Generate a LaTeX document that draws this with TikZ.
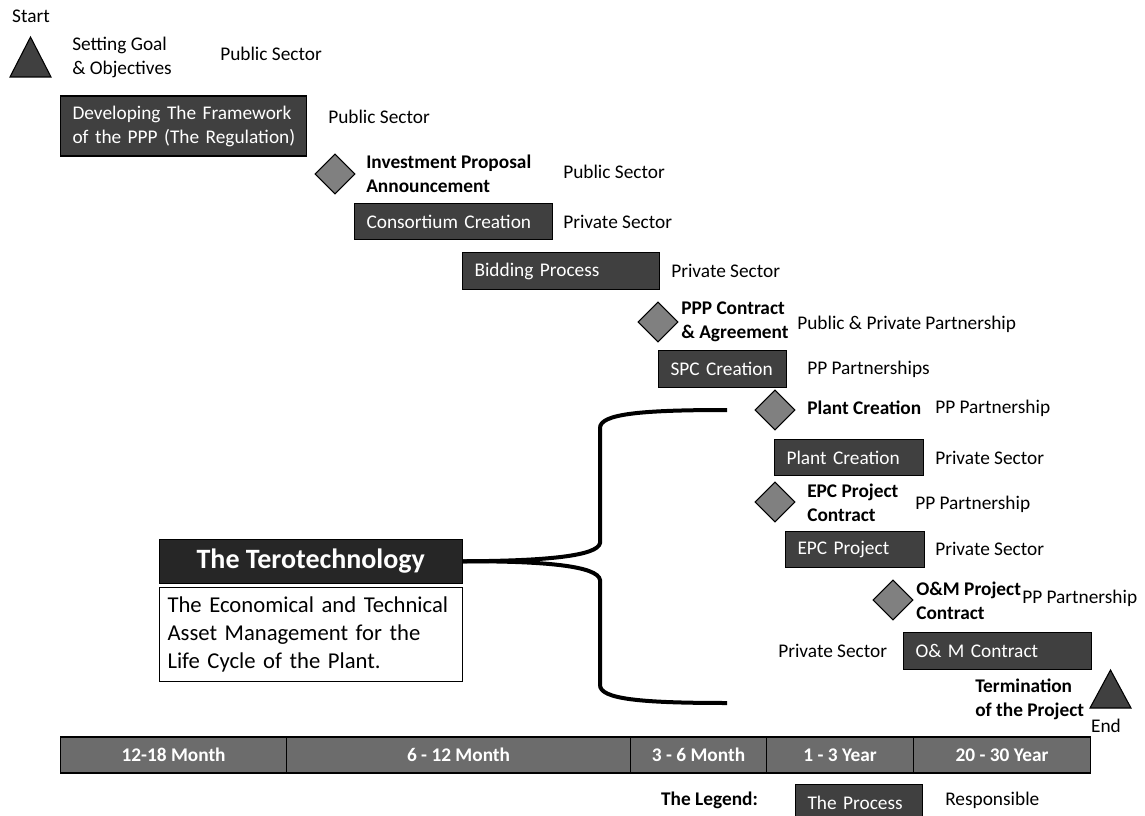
\documentclass[tikz,border=0pt]{standalone}
\usepackage{fontspec}
\setmainfont{Carlito}
\usepackage{tikz}
\usetikzlibrary{shapes.geometric,positioning}
\definecolor{procgray}{RGB}{64,64,64}
\definecolor{diagray}{RGB}{128,128,128}
\definecolor{timegray}{RGB}{108,108,108}
\definecolor{terodark}{RGB}{38,38,38}

\begin{document}
\begin{tikzpicture}[x=0.75pt, y=-0.75pt,
    font=\fontsize{14.5}{18}\selectfont,
    proc/.style={draw=black, line width=0.8pt, fill=procgray, text=white,
      anchor=west, align=left, inner xsep=9pt, inner ysep=0pt, minimum height=27.5pt},
    resp/.style={anchor=west, inner sep=0pt, align=left},
    event/.style={resp, font=\fontsize{14.5}{18}\selectfont\bfseries},
    milestone/.style={diamond, draw=black, line width=0.8pt, fill=diagray,
      inner sep=0pt, minimum width=30pt, minimum height=30pt},
    endpoint/.style={draw=black, line width=0.8pt, fill=procgray},
    period/.style={draw=black, line width=0.8pt, fill=timegray, text=white,
      font=\fontsize{14.5}{18}\selectfont\bfseries, anchor=west,
      minimum height=27pt, inner sep=0pt},
    brace/.style={line width=3pt}]

    \useasboundingbox (0,0) rectangle (1145,816);

    % Start and end
    \node (start) at (31,16) {Start};
    \draw[endpoint] (10,77) -- (30.5,37) -- (51,77) -- cycle;
    \node[resp] (goal) at (72,57) {Setting Goal\\\& Objectives};
    \draw[endpoint] (1090,708) -- (1110.5,670) -- (1131,708) -- cycle;
    \node (end) at (1106,726) {End};

    % Processes
    \node[proc, text width=166.5pt, minimum height=45pt] (frame) at (60,126)
      {\mbox{Developing The Framework}\\\mbox{of the PPP (The Regulation)}};
    \node[proc, text width=130.5pt] (consort) at (354,221.5) {Consortium Creation};
    \node[proc, text width=129.75pt] (bid) at (462,271) {Bidding Process};
    \node[proc, text width=78pt] (spc) at (658,369) {SPC Creation};
    \node[proc, text width=93.75pt] (plant) at (774,457.5) {Plant Creation};
    \node[proc, text width=86.25pt] (epc) at (785,549.5) {EPC Project};
    \node[proc, text width=123pt] (om) at (903,651) {O\& M Contract};

    % Milestones
    \foreach \x/\y [count=\k] in {335/174, 658/322, 775/410, 775/502, 893/600} {
        \node[milestone] (m\k) at (\x,\y) {};
    }
    \node[event] (invest) at (366,174) {Investment Proposal\\Announcement};
    \node[event] (contract) at (681,322) {PPP Contract\\\& Agreement};
    \node[event] (plantev) at (807,408) {Plant Creation};
    \node[event] (epcev) at (807,503) {EPC Project\\Contract};
    \node[event] (omev) at (916,601) {O\&M Project\\Contract};
    \node[event] (term) at (975,699.5) {Termination\\of the Project};

    % Responsible parties
    \foreach \x/\y/\t [count=\k] in {220/54/Public Sector, 328/117/Public Sector,
        563/172/Public Sector, 563/222/Private Sector, 671/271/Private Sector,
        797/324/Public \& Private Partnership, 807/369/PP Partnerships,
        935/408/PP Partnership, 935/458/Private Sector, 915/504/PP Partnership,
        935/549/Private Sector, 1022/598/PP Partnership, 778/651/Private Sector} {
        \node[resp] (r\k) at (\x,\y) {\t};
    }

    % Terotechnology
    \node[draw=black, fill=terodark, text=white, font=\fontsize{21}{25}\selectfont\bfseries,
      anchor=north west, minimum width=227.25pt, minimum height=33pt, inner sep=0pt]
      (tero) at (159,539) {The Terotechnology};
    \node[draw=black, line width=0.8pt, anchor=north west, text width=215.25pt, inner xsep=6pt,
      minimum height=70.5pt, align=left, font=\fontsize{17}{21}\selectfont]
      (terodesc) at (159,587) {The Economical and Technical\\Asset Management for the\\Life Cycle of the Plant.};

    \coordinate (brtop) at (727,410);
    \coordinate (brbot) at (727,703);
    \draw[brace] (tero.east) .. controls (545,561) and (598,556) .. (600,543)
      -- (600,428) .. controls (600,414) and (640,410) .. (brtop);
    \draw[brace] (tero.east) .. controls (545,561) and (598,566) .. (600,580)
      -- (600,685) .. controls (600,699) and (640,703) .. (brbot);

    % Time line
    \foreach \a/\b/\t [count=\k] in {60/286/12-18 Month, 286/630/6 - 12 Month,
        630/766/3 - 6 Month, 766/913/1 - 3 Year, 913/1090/20 - 30 Year} {
        \node[period, minimum width={(\b-\a)*0.75pt}] (p\k) at (\a,755) {\t};
    }

    % Legend
    \node[event, anchor=center] (legend) at (709.5,800) {The Legend:};
    \node[proc, text width=77.25pt] (legproc) at (795,803) {The Process};
    \node[resp] (legresp) at (945,800) {Responsible};
\end{tikzpicture}
\end{document}
